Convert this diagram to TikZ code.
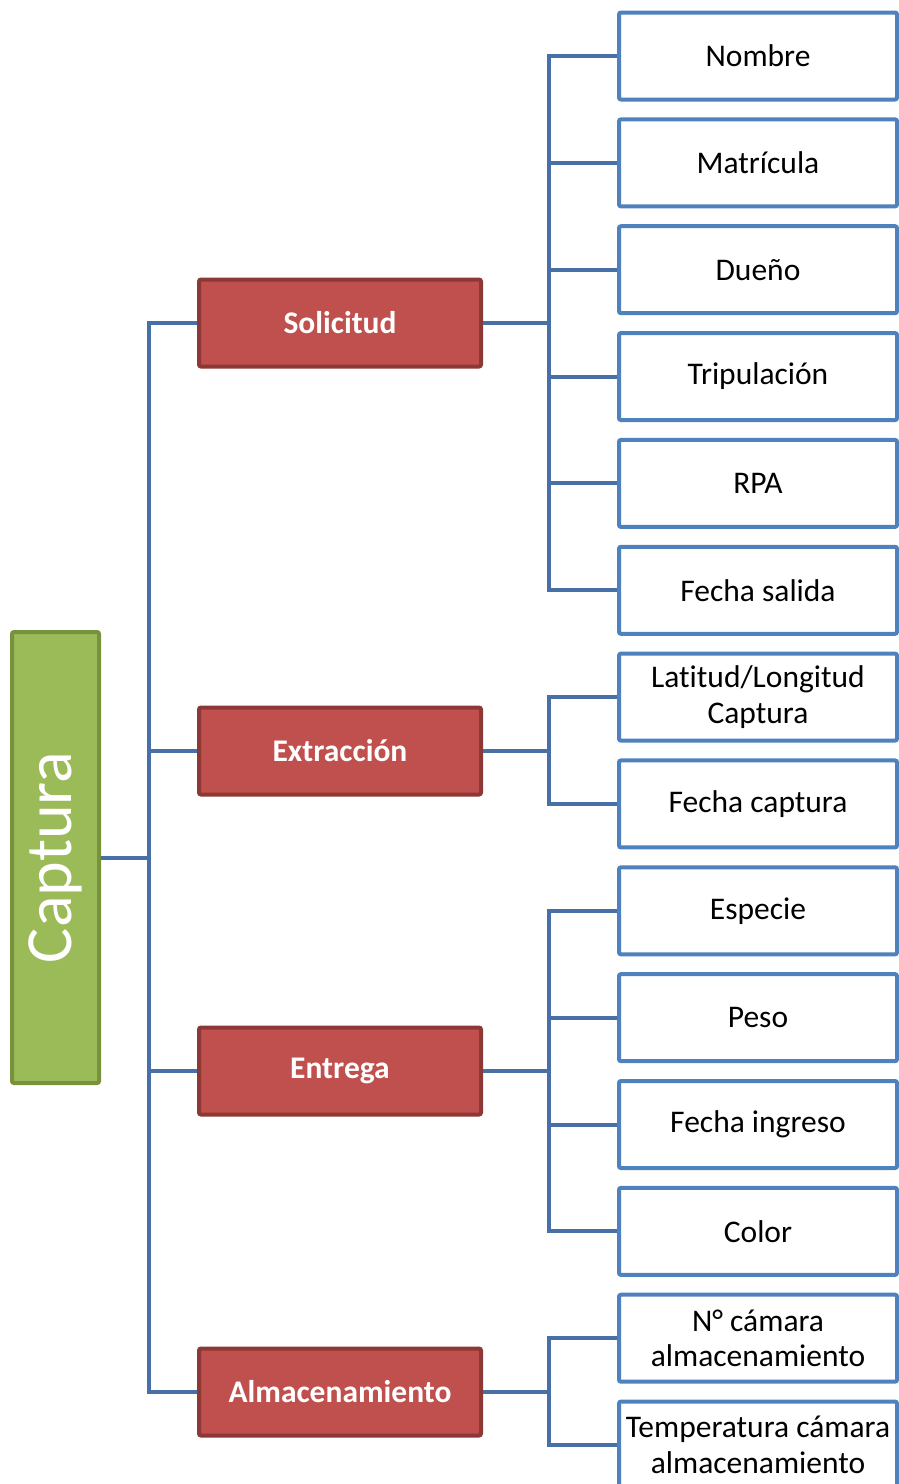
\documentclass[tikz,border=0pt]{standalone}
\usepackage{fontspec}
\setmainfont{Carlito}[Ligatures={NoCommon,NoContextual,NoRare}, Contextuals=NoAlternate]
\definecolor{capgreen}{HTML}{9BBB59}
\definecolor{capgreendark}{HTML}{76923C}
\definecolor{grpred}{HTML}{C0504D}
\definecolor{grpreddark}{HTML}{8C3836}
\definecolor{leafblue}{HTML}{4F81BD}
\definecolor{linkblue}{HTML}{4670A6}
\tikzset{
    root/.style={draw=capgreendark, fill=capgreen, line width=4pt, rounded corners=2pt,
        minimum width=87pt, minimum height=451pt, inner sep=0pt},
    group/.style={draw=grpreddark, fill=grpred, line width=4pt, rounded corners=2pt,
        minimum width=282pt, minimum height=87pt, text=white,
        font=\fontsize{31.5}{35.5}\selectfont\bfseries},
    leaf/.style={draw=leafblue, fill=white, line width=4pt, rounded corners=2pt,
        minimum width=278pt, minimum height=87pt, align=center, inner sep=0pt,
        font=\fontsize{31.5}{35.5}\selectfont},
    link/.style={draw=linkblue, line width=4pt}
}
\begin{document}
\begin{tikzpicture}[x=1pt, y=-1pt]
    \useasboundingbox (0,0) rectangle (899,1484);
    % leaves
    \foreach \txt [count=\i] in {Nombre, Matrícula, Dueño, Tripulación, RPA, Fecha salida,
        {Lat\kern0pt itud/Longitud\\Captura}, Fecha captura, Especie, Peso, Fecha ingreso, Color,
        {N° cámara\\almacenamiento}, {Temperatura cámara\\almacenamiento}}
        \node[leaf] (b\i) at (758, {56+106.85*(\i-1)}) {\txt};
    % groups
    \node[group] (sol) at (340, 323) {Solicitud};
    \node[group] (ext) at (340, 751) {Extracción};
    \node[group] (ent) at (340, 1071) {Entrega};
    \node[group] (alm) at (340, 1392) {Almacenamiento};
    % root
    \node[root] (cap) at (55.5, 857.5) {\rotatebox{90}{\color{white}\fontsize{66}{70}\selectfont Captura}};
    \coordinate (trunk) at (149, 857.5);
    \coordinate (solbus) at (549, 323);
    \coordinate (extbus) at (549, 751);
    \coordinate (entbus) at (549, 1071);
    \coordinate (almbus) at (549, 1392);
    % links root to groups
    \draw[link] (sol.west) -| (trunk) |- (alm.west);
    \draw[link] (cap.east) -- (trunk);
    \draw[link] (ext.west) -- (ext.west -| trunk);
    \draw[link] (ent.west) -- (ent.west -| trunk);
    % links groups to leaves
    \draw[link] (b1.west) -| (solbus) |- (b6.west);
    \draw[link] (sol.east) -- (solbus);
    \foreach \j in {2,...,5}
        \draw[link] (b\j.west) -- (b\j.west -| solbus);
    \draw[link] (b7.west) -| (extbus) |- (b8.west);
    \draw[link] (ext.east) -- (extbus);
    \draw[link] (b9.west) -| (entbus) |- (b12.west);
    \draw[link] (ent.east) -- (entbus);
    \foreach \j in {10,11}
        \draw[link] (b\j.west) -- (b\j.west -| entbus);
    \draw[link] (b13.west) -| (almbus) |- (b14.west);
    \draw[link] (alm.east) -- (almbus);
\end{tikzpicture}
\end{document}
